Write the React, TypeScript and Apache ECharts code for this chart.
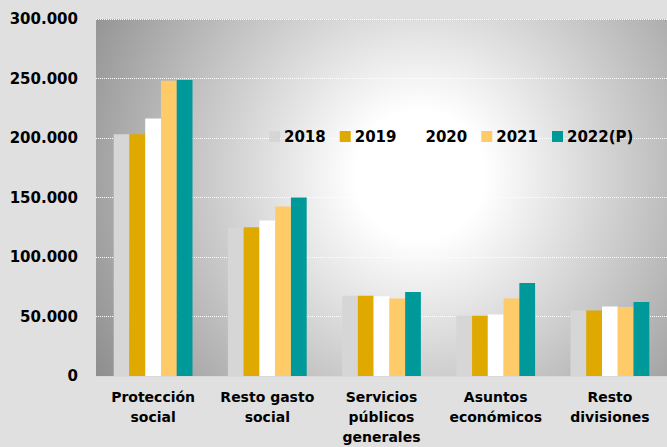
import React, { useEffect, useRef } from "react";
import * as echarts from "echarts";

const categories = ["Protección\nsocial", "Resto gasto\nsocial", "Servicios\npúblicos\ngenerales", "Asuntos\neconómicos", "Resto\ndivisiones"];
const years = ["2018", "2019", "2020", "2021", "2022(P)"];
const v2018 = [203200, 124800, 67400, 50600, 55100];
const v2019 = [203200, 125000, 67400, 50600, 55100];
const v2020 = [216400, 130700, 67000, 51700, 58400];
const v2021 = [248100, 142500, 65200, 65200, 57900];
const v2022 = [248700, 150100, 70600, 78200, 62100];
const seriesValues = [v2018, v2019, v2020, v2021, v2022];
const colors = ["#d6d6d6", "#dfa900", "#ffffff", "#ffcb69", "#009999"];

const FONT = "DejaVu Sans";

export default function App() {
  const ref = useRef<HTMLDivElement>(null);
  useEffect(() => {
    if (!ref.current) return;
    const chart = echarts.init(ref.current, null, { renderer: "svg" });
    chart.setOption({
      animation: false,
      backgroundColor: "#e0e0e0",
      textStyle: { fontFamily: FONT, fontWeight: "bold", color: "#000" },
      grid: {
        left: 96,
        right: 0,
        top: 19,
        bottom: 71,
        show: true,
        borderWidth: 0,
        backgroundColor: {
          type: "radial",
          x: 420,
          y: 175,
          r: 380,
          global: true,
          colorStops: [
            { offset: 0, color: "#ffffff" },
            { offset: 0.17, color: "#ffffff" },
            { offset: 1, color: "#8e8e8e" },
          ],
        },
      },
      legend: {
        left: 264,
        top: 124,
        width: 403,
        itemWidth: 11,
        itemHeight: 11,
        itemGap: 14,
        icon: "rect",
        textStyle: { fontFamily: FONT, fontWeight: "bold", fontSize: 15, color: "#000", padding: [0, 0, 0, -1] },
        data: years,
      },
      xAxis: {
        type: "category",
        data: categories,
        axisTick: { show: false },
        axisLine: { lineStyle: { color: "#d9d9d9", width: 1 } },
        axisLabel: {
          interval: 0,
          margin: 11,
          fontFamily: FONT,
          fontWeight: "bold",
          fontSize: 14,
          lineHeight: 20,
          color: "#000",
        },
      },
      yAxis: {
        type: "value",
        min: 0,
        max: 300000,
        interval: 50000,
        axisLine: { show: false },
        axisTick: { show: false },
        splitLine: { lineStyle: { color: "#ffffff", type: "dotted", width: 1 } },
        axisLabel: {
          margin: 18,
          fontFamily: FONT,
          fontWeight: "bold",
          fontSize: 15,
          color: "#000",
          formatter: (v: number) => String(v).replace(/\B(?=(\d{3})+(?!\d))/g, "."),
        },
      },
      series: years.map((y, i) => ({
        name: y,
        type: "bar",
        data: seriesValues[i],
        barGap: "0%",
        barCategoryGap: "31%",
        itemStyle: { color: colors[i] },
      })),
    });
    return () => chart.dispose();
  }, []);
  return <div ref={ref} style={{ position: "absolute", left: 0, top: 0, width: 667, height: 447 }} />;
}
